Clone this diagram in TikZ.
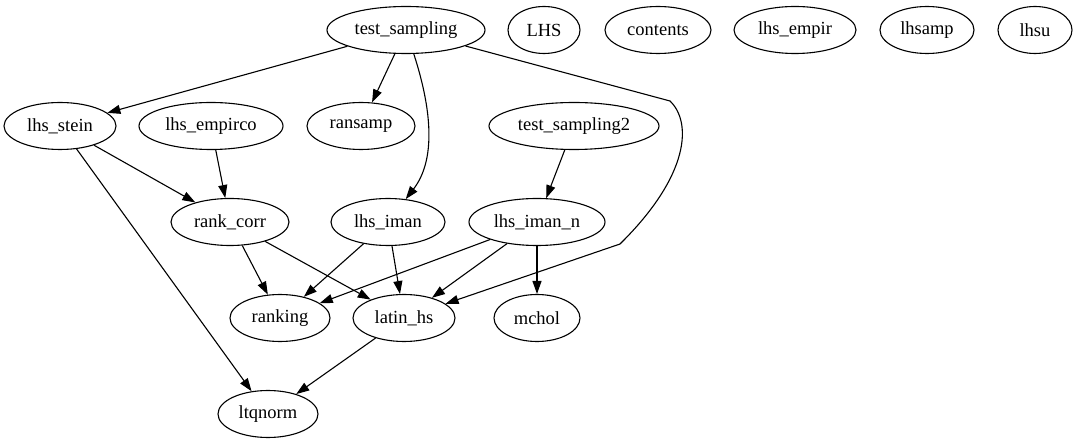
\documentclass[tikz,border=0pt]{standalone}
\usepackage{fontspec}
\setmainfont{Liberation Serif}
\usetikzlibrary{shapes.geometric,arrows.meta}
\begin{document}
\begin{tikzpicture}[x=1pt,y=-1pt,
  nd/.style={draw,ellipse,line width=1.1pt,inner sep=0pt,minimum height=47pt,
    font=\fontsize{18.5}{22}\selectfont},
  edge/.style={line width=1.1pt,-{Triangle[length=13pt,width=9pt]}}]
\useasboundingbox (0,0) rectangle (1077,443);
\node[nd,minimum width=158pt] (ts) at (406,30) {test\_sampling};
\node[nd,minimum width=72pt] (LHS) at (544,30) {LHS};
\node[nd,minimum width=106pt] (contents) at (658,30) {contents};
\node[nd,minimum width=122pt] (empir) at (795,30) {lhs\_empir};
\node[nd,minimum width=94pt] (lhsamp) at (927,30) {lhsamp};
\node[nd,minimum width=74pt] (lhsu) at (1035,30) {lhsu};
\node[nd,minimum width=112pt] (stein) at (60,126) {lhs\_stein};
\node[nd,minimum width=144pt] (empirco) at (211,126) {lhs\_empirco};
\node[nd,minimum width=108pt] (ransamp) at (361,126) {ransamp};
\node[nd,minimum width=170pt] (ts2) at (574,126) {test\_sampling2};
\node[nd,minimum width=118pt] (rc) at (230,222) {rank\_corr};
\node[nd,minimum width=114pt] (iman) at (388,222) {lhs\_iman};
\node[nd,minimum width=136pt] (imann) at (537,222) {lhs\_iman\_n};
\node[nd,minimum width=100pt] (ranking) at (280,318) {ranking};
\node[nd,minimum width=102pt] (latin) at (404,318) {latin\_hs};
\node[nd,minimum width=86pt] (mchol) at (537,318) {mchol};
\node[nd,minimum width=100pt] (ltq) at (268,414) {ltqnorm};
\coordinate (b1) at (670,101);
\coordinate (b2) at (620,244);
\draw[edge] (ts) -- (stein);
\draw[edge] (ts) -- (ransamp);
\draw[edge] (ts) .. controls (432,110) and (436,160) .. (iman);
\draw[edge] (ts) -- (b1) .. controls (692,122) and (690,175) .. (b2) -- (latin);
\draw[edge] (stein) -- (rc);
\draw[edge] (stein) -- (ltq);
\draw[edge] (empirco) -- (rc);
\draw[edge] (ts2) -- (imann);
\draw[edge] (rc) -- (ranking);
\draw[edge] (rc) -- (latin);
\draw[edge] (iman) -- (ranking);
\draw[edge] (iman) -- (latin);
\draw[edge] (imann) -- (ranking);
\draw[edge] (imann) -- (latin);
\draw[edge] (imann) -- (mchol);
\draw[edge] (latin) -- (ltq);
\end{tikzpicture}
\end{document}
